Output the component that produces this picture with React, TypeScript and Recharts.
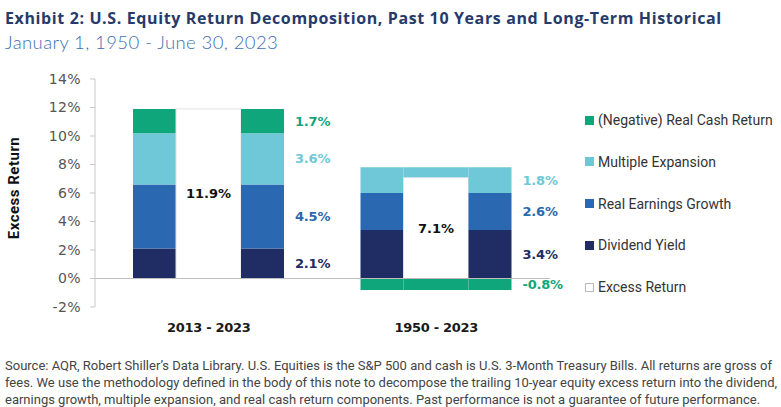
import { Bar, BarChart, LabelList, ReferenceLine, XAxis, YAxis } from "recharts";

const periods = ["2013 - 2023", "1950 - 2023"];
const dividendYield = [2.1, 3.4];
const realEarningsGrowth = [4.5, 2.6];
const multipleExpansion = [3.6, 1.8];
const realCashReturn = [1.7, -0.8];
const excessReturn = [11.9, 7.1];

const yTicks = [-2, 0, 2, 4, 6, 8, 10, 12, 14];

const colors = {
  cash: "#10a67b",
  multiple: "#6ec8d8",
  earnings: "#2a69b1",
  dividend: "#202c64",
};

const legendItems = [
  { label: "(Negative) Real Cash Return", color: colors.cash },
  { label: "Multiple Expansion", color: colors.multiple },
  { label: "Real Earnings Growth", color: colors.earnings },
  { label: "Dividend Yield", color: colors.dividend },
  { label: "Excess Return", color: "#ffffff" },
];

const footerLines = [
  "Source: AQR, Robert Shiller\u2019s Data Library. U.S. Equities is the S&P 500 and cash is U.S. 3-Month Treasury Bills. All returns are gross of",
  "fees. We use the methodology defined in the body of this note to decompose the trailing 10-year equity excess return into the dividend,",
  "earnings growth, multiple expansion, and real cash return components. Past performance is not a guarantee of future performance.",
];

const data = periods.map((period, i) => {
  const stackTop =
    dividendYield[i] + realEarningsGrowth[i] + multipleExpansion[i] + Math.max(0, realCashReturn[i]);
  const gap = stackTop - excessReturn[i];
  return {
    period,
    lDiv: dividendYield[i],
    lEarn: realEarningsGrowth[i],
    lMult: multipleExpansion[i],
    lCash: realCashReturn[i],
    mExcess: excessReturn[i],
    // the wide stacked block shows through above the white excess bar
    mGap: gap > 0.05 ? gap : null,
    mCash: realCashReturn[i] < 0 ? realCashReturn[i] : null,
    rDiv: dividendYield[i],
    rEarn: realEarningsGrowth[i],
    rMult: multipleExpansion[i],
    rCash: realCashReturn[i],
  };
});

const font = "Roboto, sans-serif";
const numFont = "'DejaVu Sans', sans-serif";
const pct = (v: unknown) => `${Number(v).toFixed(1)}%`;

function YLabel(props: any) {
  const vb = props.viewBox || {};
  const cy = vb.y + vb.height / 2 - 5;
  return (
    <text
      x={14}
      y={cy}
      transform={`rotate(-90, 14, ${cy})`}
      textAnchor="middle"
      dominantBaseline="central"
      fontFamily={font}
      fontSize={15}
      fontWeight={700}
      letterSpacing={0.5}
      fill="#111"
    >
      Excess Return
    </text>
  );
}

const sideLabel = (color: string) => ({
  position: "right" as const,
  offset: 11,
  fill: color,
  fontSize: 13,
  fontWeight: 700,
  fontFamily: numFont,
  letterSpacing: -0.2,
  formatter: pct,
});

export default function App() {
  return (
    <div
      style={{
        position: "absolute",
        left: 0,
        top: 0,
        width: 781,
        height: 407,
        background: "#fff",
        fontFamily: font,
        overflow: "hidden",
      }}
    >
      <div
        style={{
          position: "absolute",
          left: 5,
          top: 7,
          fontFamily: "'Open Sans', sans-serif",
          fontSize: 16,
          fontWeight: 700,
          color: "#263a6b",
          letterSpacing: 0.62,
          whiteSpace: "nowrap",
        }}
      >
        Exhibit 2: U.S. Equity Return Decomposition, Past 10 Years and Long-Term Historical
      </div>
      <div
        style={{
          position: "absolute",
          left: 5,
          top: 31,
          fontFamily: "Lato, sans-serif",
          fontSize: 18.5,
          fontWeight: 300,
          color: "#3d6fb0",
          letterSpacing: 0.4,
          whiteSpace: "nowrap",
        }}
      >
        January 1, 1950 - June 30, 2023
      </div>

      <div style={{ position: "absolute", left: 0, top: 0 }}>
        <BarChart
          width={781}
          height={407}
          data={data}
          stackOffset="sign"
          barGap={0}
          margin={{ top: 79, right: 231, bottom: 70, left: 0 }}
        >
          <XAxis
            dataKey="period"
            axisLine={false}
            tickLine={false}
            height={30}
            tickMargin={10}
            tick={{ fill: "#1a1a1a", fontSize: 13, fontWeight: 700, fontFamily: numFont, letterSpacing: -0.3 }}
          />
          <YAxis
            width={95}
            domain={[-2, 14]}
            ticks={yTicks}
            tickFormatter={(v) => `${v}%`}
            axisLine={{ stroke: "#c8c8c8" }}
            tickLine={{ stroke: "#c8c8c8" }}
            tickSize={5}
            tickMargin={9}
            tick={{ fill: "#555", fontSize: 14, fontFamily: numFont, letterSpacing: 0.4 }}
            label={<YLabel />}
          />

          <Bar dataKey="lDiv" stackId="L" barSize={43} fill={colors.dividend} isAnimationActive={false} />
          <Bar dataKey="lEarn" stackId="L" fill={colors.earnings} isAnimationActive={false} />
          <Bar dataKey="lMult" stackId="L" fill={colors.multiple} isAnimationActive={false} />
          <Bar dataKey="lCash" stackId="L" fill={colors.cash} isAnimationActive={false} />

          <Bar
            dataKey="mExcess"
            stackId="M"
            barSize={65}
            fill="#ffffff"
            stroke="#e2e2e2"
            strokeWidth={1}
            isAnimationActive={false}
          >
            <LabelList
              dataKey="mExcess"
              position="center"
              fill="#111"
              fontSize={13}
              fontWeight={700}
              fontFamily={numFont}
              formatter={pct}
            />
          </Bar>
          <Bar dataKey="mGap" stackId="M" fill={colors.multiple} isAnimationActive={false} />
          <Bar dataKey="mCash" stackId="M" fill={colors.cash} isAnimationActive={false} />

          <Bar dataKey="rDiv" stackId="R" barSize={43} fill={colors.dividend} isAnimationActive={false}>
            <LabelList dataKey="rDiv" {...sideLabel(colors.dividend)} />
          </Bar>
          <Bar dataKey="rEarn" stackId="R" fill={colors.earnings} isAnimationActive={false}>
            <LabelList dataKey="rEarn" {...sideLabel(colors.earnings)} />
          </Bar>
          <Bar dataKey="rMult" stackId="R" fill={colors.multiple} isAnimationActive={false}>
            <LabelList dataKey="rMult" {...sideLabel(colors.multiple)} />
          </Bar>
          <Bar dataKey="rCash" stackId="R" fill={colors.cash} isAnimationActive={false}>
            <LabelList dataKey="rCash" {...sideLabel(colors.cash)} />
          </Bar>

          <ReferenceLine y={0} stroke="#bdbdbd" strokeWidth={1} />
        </BarChart>
      </div>

      {legendItems.map((item, i) => (
        <div
          key={item.label}
          style={{
            position: "absolute",
            left: 585,
            top: 111 + i * 41.8,
            height: 18,
            display: "flex",
            alignItems: "center",
            fontSize: 14,
            color: "#333",
            whiteSpace: "nowrap",
          }}
        >
          <span
            style={{
              width: 9,
              height: 9,
              marginRight: 4,
              background: item.color,
              boxSizing: "border-box",
              border: item.color === "#ffffff" ? "1px solid #bbb" : "none",
            }}
          />
          {item.label}
        </div>
      ))}

      <div
        style={{
          position: "absolute",
          left: 5,
          top: 357,
          fontSize: 13,
          lineHeight: "17px",
          color: "#444",
          whiteSpace: "nowrap",
        }}
      >
        {footerLines.map((line) => (
          <div key={line}>{line}</div>
        ))}
      </div>
    </div>
  );
}
